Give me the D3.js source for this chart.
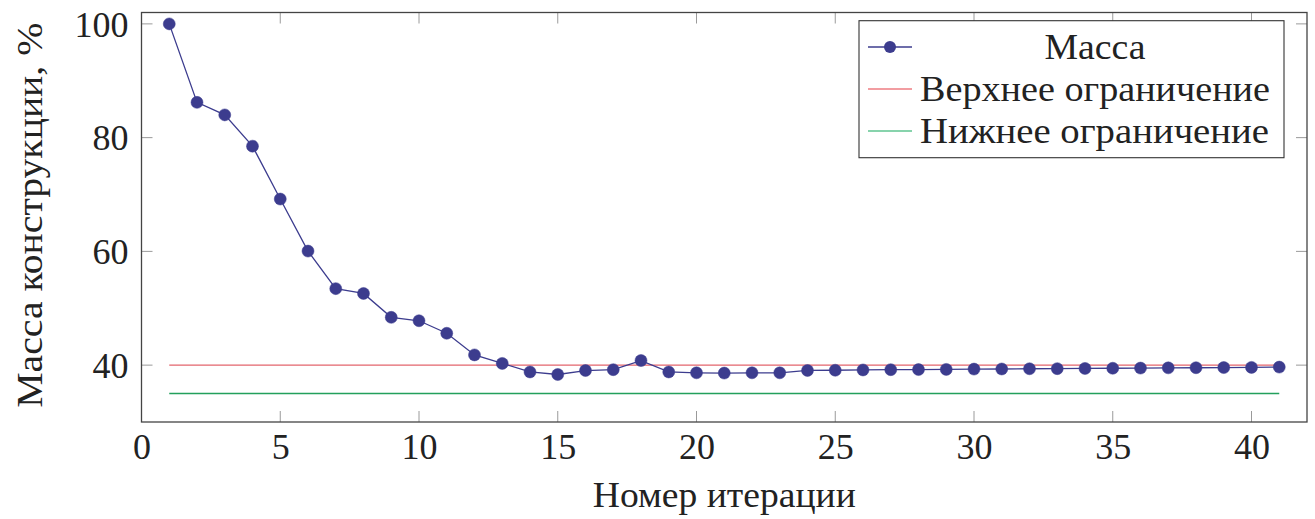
<!DOCTYPE html>
<html>
<head>
<meta charset="utf-8">
<script src="https://cdn.jsdelivr.net/npm/d3@7"></script>
</head>
<body style="margin:0">
<svg id="chart" width="1315" height="519" font-family="Liberation Serif"></svg>
<script>
// ---- data ----
const iterations = d3.range(1, 42);
const massValues = [
  100, 86.2, 84.0, 78.5, 69.2, 60.05, 53.45, 52.6, 48.4, 47.8,
  45.6, 41.8, 40.3, 38.8, 38.35, 39.05, 39.2, 40.8, 38.8, 38.65,
  38.6, 38.65, 38.65, 39.06, 39.1, 39.15, 39.2, 39.22, 39.25, 39.3,
  39.32, 39.36, 39.38, 39.42, 39.45, 39.48, 39.52, 39.54, 39.57, 39.6,
  39.65
];
const upperLimit = [40, 40];
const lowerLimit = [35, 35];
const limitX = [1, 41];
const xTicks = [0, 5, 10, 15, 20, 25, 30, 35, 40];
const yTicks = [40, 60, 80, 100];
const seriesNames = ["Масса", "Верхнее ограничение", "Нижнее ограничение"];
const xLabel = "Номер итерации";
const yLabel = "Масса конструкции, %";

// ---- layout ----
const L = 141.5, R = 1307, T = 12.5, B = 422;
const svg = d3.select("#chart");
const x = d3.scaleLinear().domain([0, 42]).range([L, R]);
const y = d3.scaleLinear().domain([30, 102]).range([B, T]);

const colMass = "#3c3c8e";
const colUpper = "#e3646c";
const colLower = "#23a05c";
const tickLen = 11;
const fs = 36;

function txt(sel) {
  return sel.style("font-family", '"Liberation Serif"')
    .attr("font-size", fs).attr("fill", "#222");
}

// ticks (inside, all four sides)
const tg = svg.append("g").attr("stroke", "#9a9a9a").attr("stroke-width", 1);
xTicks.forEach(t => {
  tg.append("line").attr("x1", x(t)).attr("x2", x(t)).attr("y1", B).attr("y2", B - tickLen);
  tg.append("line").attr("x1", x(t)).attr("x2", x(t)).attr("y1", T).attr("y2", T + tickLen);
});
yTicks.forEach(t => {
  tg.append("line").attr("x1", L).attr("x2", L + tickLen).attr("y1", y(t)).attr("y2", y(t));
  tg.append("line").attr("x1", R).attr("x2", R - tickLen).attr("y1", y(t)).attr("y2", y(t));
});

// limit lines
const line = d3.line().x(d => x(d[0])).y(d => y(d[1]));
svg.append("path").datum(limitX.map((v, i) => [v, upperLimit[i]]))
  .attr("d", line).attr("fill", "none").attr("stroke", colUpper).attr("stroke-width", 1.4);
svg.append("path").datum(limitX.map((v, i) => [v, lowerLimit[i]]))
  .attr("d", line).attr("fill", "none").attr("stroke", colLower).attr("stroke-width", 1.4);

// mass series
const massData = iterations.map((it, i) => [it, massValues[i]]);
svg.append("path").datum(massData).attr("d", line)
  .attr("fill", "none").attr("stroke", colMass).attr("stroke-width", 1.3);
svg.append("g").selectAll("circle").data(massData).join("circle")
  .attr("cx", d => x(d[0])).attr("cy", d => y(d[1])).attr("r", 6)
  .attr("fill", colMass).attr("stroke", colMass).attr("stroke-width", 0.5);

// frame
svg.append("rect").attr("x", L).attr("y", T).attr("width", R - L).attr("height", B - T)
  .attr("fill", "none").attr("stroke", "#444").attr("stroke-width", 1.3);

// tick labels via axis scales (labels only)
const xAxisG = svg.append("g").attr("transform", `translate(0,${B})`)
  .call(d3.axisBottom(x).tickValues(xTicks).tickSize(0).tickPadding(0));
xAxisG.select(".domain").remove();
xAxisG.attr("font-family", "Liberation Serif").attr("font-size", fs);
txt(xAxisG.selectAll("text").attr("dy", null).attr("y", 37));

const yAxisG = svg.append("g").attr("transform", `translate(${L},0)`)
  .call(d3.axisLeft(y).tickValues(yTicks).tickSize(0).tickPadding(13));
yAxisG.select(".domain").remove();
yAxisG.attr("font-family", "Liberation Serif").attr("font-size", fs);
txt(yAxisG.selectAll("text").attr("dy", "0.34em"));

// axis labels
txt(svg.append("text")).attr("x", (L + R) / 2).attr("y", 507)
  .attr("text-anchor", "middle")
  .attr("textLength", 263).attr("lengthAdjust", "spacingAndGlyphs")
  .text(xLabel);
txt(svg.append("text")).attr("transform", `translate(42,${(T + B) / 2 - 2}) rotate(-90)`)
  .attr("text-anchor", "middle")
  .attr("textLength", 385).attr("lengthAdjust", "spacingAndGlyphs")
  .text(yLabel);

// legend
const lg = svg.append("g");
lg.append("rect").attr("x", 859).attr("y", 20.7).attr("width", 425).attr("height", 137)
  .attr("fill", "#fff").attr("stroke", "#333").attr("stroke-width", 1.1);
const rows = [47, 89, 131];
lg.append("line").attr("x1", 868).attr("x2", 912).attr("y1", rows[0]).attr("y2", rows[0])
  .attr("stroke", colMass).attr("stroke-width", 1.3);
lg.append("circle").attr("cx", 890).attr("cy", rows[0]).attr("r", 6).attr("fill", colMass);
txt(lg.append("text")).attr("x", 1095).attr("y", rows[0]).attr("dy", "0.34em")
  .attr("text-anchor", "middle")
  .attr("textLength", 101).attr("lengthAdjust", "spacingAndGlyphs").text(seriesNames[0]);
lg.append("line").attr("x1", 868).attr("x2", 912).attr("y1", rows[1]).attr("y2", rows[1])
  .attr("stroke", "#ee7c82").attr("stroke-width", 1.3);
txt(lg.append("text")).attr("x", 920).attr("y", rows[1]).attr("dy", "0.34em")
  .attr("textLength", 350).attr("lengthAdjust", "spacingAndGlyphs")
  .text(seriesNames[1]);
lg.append("line").attr("x1", 868).attr("x2", 912).attr("y1", rows[2]).attr("y2", rows[2])
  .attr("stroke", "#5fc491").attr("stroke-width", 1.5);
txt(lg.append("text")).attr("x", 920).attr("y", rows[2]).attr("dy", "0.34em")
  .attr("textLength", 349).attr("lengthAdjust", "spacingAndGlyphs")
  .text(seriesNames[2]);
</script>
</body>
</html>
